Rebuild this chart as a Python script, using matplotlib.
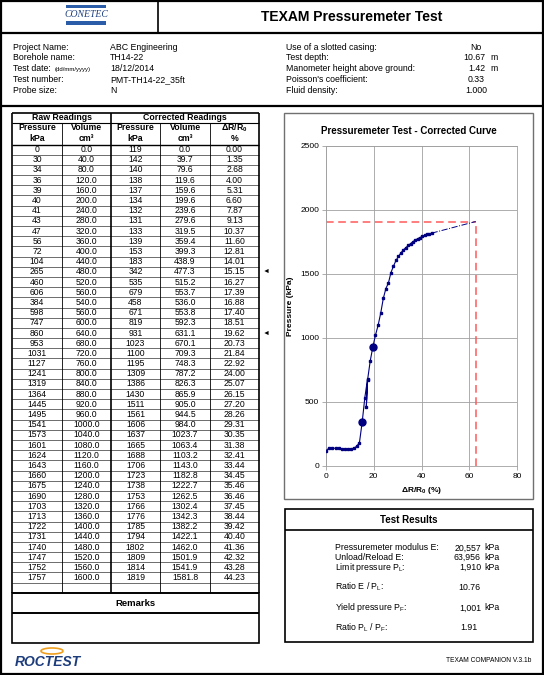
import matplotlib
matplotlib.use('Agg')
import matplotlib.pyplot as plt
from matplotlib.patches import Rectangle, Arc

plt.rcParams['font.family'] = ['Liberation Sans', 'DejaVu Sans']
plt.rcParams['mathtext.fontset'] = 'custom'
plt.rcParams['mathtext.rm'] = 'Liberation Sans'
plt.rcParams['mathtext.it'] = 'Liberation Sans:italic'
plt.rcParams['mathtext.bf'] = 'Liberation Sans:bold'

# Readings
raw_p = [0, 30, 34, 36, 39, 40, 41, 43, 47, 56, 72, 104, 265, 460, 606, 384, 598, 747, 860,
         953, 1031, 1127, 1241, 1319, 1364, 1445, 1495, 1541, 1573, 1601, 1624, 1643, 1660,
         1675, 1690, 1703, 1713, 1722, 1731, 1740, 1747, 1752, 1757]
raw_v = [0, 40, 80, 120, 160, 200, 240, 280, 320, 360, 400, 440, 480, 520, 560, 540, 560,
         600, 640, 680, 720, 760, 800, 840, 880, 920, 960, 1000, 1040, 1080, 1120, 1160, 1200,
         1240, 1280, 1320, 1360, 1400, 1440, 1480, 1520, 1560, 1600]
cor_p = [119, 142, 140, 138, 137, 134, 132, 131, 133, 139, 153, 183, 342, 535, 679, 458, 671,
         819, 931, 1023, 1100, 1195, 1309, 1386, 1430, 1511, 1561, 1606, 1637, 1665, 1688,
         1706, 1723, 1738, 1753, 1766, 1776, 1785, 1794, 1802, 1809, 1814, 1819]
cor_v = [0.0, 39.7, 79.6, 119.6, 159.6, 199.6, 239.6, 279.6, 319.5, 359.4, 399.3, 438.9, 477.3,
         515.2, 553.7, 536.0, 553.8, 592.3, 631.1, 670.1, 709.3, 748.3, 787.2, 826.3, 865.9,
         905.0, 944.5, 984.0, 1023.7, 1063.4, 1103.2, 1143.0, 1182.8, 1222.7, 1262.5, 1302.4,
         1342.3, 1382.2, 1422.1, 1462.0, 1501.9, 1541.9, 1581.8]
dr = [0.00, 1.35, 2.68, 4.00, 5.31, 6.60, 7.87, 9.13, 10.37, 11.60, 12.81, 14.01, 15.15, 16.27,
      17.39, 16.88, 17.40, 18.51, 19.62, 20.73, 21.84, 22.92, 24.00, 25.07, 26.15, 27.20,
      28.26, 29.31, 30.35, 31.38, 32.41, 33.44, 34.45, 35.46, 36.46, 37.45, 38.44, 39.42,
      40.40, 41.36, 42.32, 43.28, 44.23]
selected = [12, 18]          # pseudo-elastic range limits
pl = 1910                    # limit pressure
pl_strain = 62.7

info_left = [('Project Name:', 'ABC Engineering'), ('Borehole name:', 'TH14-22'),
             ('Test date:', '18/12/2014'), ('Test number:', 'PMT-TH14-22_35ft'),
             ('Probe size:', 'N')]
info_right = [('Use of a slotted casing:', 'No', ''), ('Test depth:', '10.67', 'm'),
              ('Manometer height above ground:', '1.42', 'm'), ("Poisson's coefficient:", '0.33', ''),
              ('Fluid density:', '1.000', '')]
results = [('Pressuremeter modulus E:', '20,557', 'kPa'), ('Unload/Reload E:', '63,956', 'kPa'),
           ('Limit pressure P$_\\mathregular{L}$:', '1,910', 'kPa'),
           ('Ratio E / P$_\\mathregular{L}$:', '10.76', ''),
           ('Yield pressure P$_\\mathregular{F}$:', '1,001', 'kPa'),
           ('Ratio P$_\\mathregular{L}$ / P$_\\mathregular{F}$:', '1.91', '')]

fig = plt.figure(figsize=(5.44, 6.75), dpi=100)
page = fig.add_axes([0, 0, 1, 1])
page.set_xlim(0, 544)
page.set_ylim(675, 0)
page.axis('off')

def hline(y, x0, x1, lw=0.6, c='black'):
    page.plot([x0, x1], [y, y], color=c, lw=lw, solid_capstyle='butt')

def vline(x, y0, y1, lw=0.6, c='black'):
    page.plot([x, x], [y0, y1], color=c, lw=lw, solid_capstyle='butt')

def txt(x, y, s, size=6.3, ha='left', **kw):
    page.text(x, y, s, fontsize=size, ha=ha, va='center', **kw)

# page frame and header
page.add_patch(Rectangle((1, 1), 542, 673, fill=False, lw=1.6, ec='black'))
hline(33, 1, 543, lw=1.6)
hline(106, 1, 543, lw=1.6)
vline(158, 1, 33, lw=1.2)
txt(352, 17, 'TEXAM Pressuremeter Test', size=10, ha='center', weight='bold')
page.add_patch(Rectangle((66, 4.5), 40, 3.5, color='#2b5ca8', lw=0))
page.add_patch(Rectangle((66, 21), 40, 3.5, color='#2b5ca8', lw=0))
txt(86, 14.5, 'CONETEC', size=7, ha='center', family='Liberation Serif',
    style='italic', color='#1f3f7f')

# project info
for i, (lab, val) in enumerate(info_left):
    y = 47 + i * 10.8
    txt(13, y, lab)
    txt(110, y, val)
txt(55, 47 + 2 * 10.8 + 0.5, '(dd/mm/yyyy)', size=4.3)
for i, (lab, val, unit) in enumerate(info_right):
    y = 47 + i * 10.8
    txt(286, y, lab)
    if unit:
        txt(485, y, val, ha='right')
        txt(490, y, unit)
    else:
        txt(476, y, val, ha='center')

# readings table
cols = [12, 62, 111, 160, 210, 259]
top, sub, head_bot, row_h = 113, 122.5, 144.5, 10.19
n_rows = len(raw_p) + 1
tab_bot = head_bot + n_rows * row_h
hline(top, 12, 259, lw=1.2)
hline(sub, 12, 259, lw=0.8)
hline(head_bot, 12, 259, lw=1.0)
for i in range(1, n_rows):
    hline(head_bot + i * row_h, 12, 259, lw=0.5, c='#333333')
for x in cols:
    lw = 1.2 if x in (12, 111, 259) else 0.6
    vline(x, sub if x not in (12, 111, 259) else top, tab_bot, lw=lw)
txt(61.5, 118, 'Raw Readings', ha='center', weight='bold')
txt(185, 118, 'Corrected Readings', ha='center', weight='bold')
heads = [('Pressure', 'kPa'), ('Volume', 'cm³'), ('Pressure', 'kPa'), ('Volume', 'cm³'),
         ('ΔR/R$_\\mathregular{0}$', '%')]
for j, (h1, h2) in enumerate(heads):
    xc = (cols[j] + cols[j + 1]) / 2
    txt(xc, 128, h1, ha='center', weight='bold')
    txt(xc, 138.5, h2, ha='center', weight='bold')
for i in range(len(raw_p)):
    y = head_bot + (i + 0.5) * row_h
    vals = [str(raw_p[i]), '%.1f' % raw_v[i], str(cor_p[i]), '%.1f' % cor_v[i], '%.2f' % dr[i]]
    for j, v in enumerate(vals):
        txt((cols[j] + cols[j + 1]) / 2, y, v, size=6.2, ha='center')
    if i in selected:
        txt(263, y, '◄', size=5)

# remarks
hline(tab_bot, 12, 259, lw=1.2)
hline(613, 12, 259, lw=1.4)
page.add_patch(Rectangle((12, tab_bot), 247, 643 - tab_bot, fill=False, lw=1.2))
txt(135.5, 603, 'Remarks', size=6.8, ha='center', weight='bold')

# roctest logo
page.add_patch(Arc((52, 651), 22, 6, theta1=0, theta2=360, color='#f0a020', lw=1.2))
txt(15, 662, 'ROCTEST', size=10, weight='bold', style='italic', color='#1c3c7c')

# chart box
page.add_patch(Rectangle((284, 113), 249, 386, fill=False, lw=1.0, ec='#707070'))
txt(408.5, 131, 'Pressuremeter Test - Corrected Curve', size=7, ha='center', weight='bold')

# results box
page.add_patch(Rectangle((285, 509), 248, 133, fill=False, lw=1.2, ec='black'))
hline(530, 285, 533, lw=1.2)
txt(409, 520, 'Test Results', size=7, ha='center', weight='bold')
res_y = [548, 557, 567, 587, 608, 628]
for (lab, val, unit), y in zip(results, res_y):
    txt(335, y, lab)
    if unit:
        txt(481, y, val, ha='right')
        txt(484, y, unit)
    else:
        txt(469, y, val, ha='center')
txt(531, 660, 'TEXAM COMPANION V.3.1b', size=4.8, ha='right')

# chart
ax = fig.add_axes([326 / 544, 1 - 466 / 675, 191 / 544, 320 / 675])
ax.plot(dr, cor_p, color='#000080', lw=0.8, marker='s', ms=1.8, zorder=3)
ax.plot([dr[i] for i in selected], [cor_p[i] for i in selected], 'o', color='#000080',
        ms=5, zorder=4)
ax.plot([dr[-1], pl_strain], [cor_p[-1], pl], color='#000080', lw=0.7, ls='-.', zorder=3)
ax.plot([0, pl_strain], [pl, pl], color='#ff5a5a', lw=1.1, ls=(0, (5, 3)), zorder=2)
ax.plot([pl_strain, pl_strain], [0, pl], color='#ff5a5a', lw=1.1, ls=(0, (5, 3)), zorder=2)
ax.set_xlim(0, 80)
ax.set_ylim(0, 2500)
ax.set_xticks(range(0, 81, 20))
ax.set_yticks(range(0, 2501, 500))
ax.grid(True, color='#a0a0a0', lw=0.6)
for s in ax.spines.values():
    s.set_color('#a0a0a0')
    s.set_linewidth(0.6)
ax.tick_params(labelsize=6, length=3, color='#a0a0a0', width=0.6, pad=2)
ax.set_xlabel('ΔR/R$_\\mathregular{0}$ (%)', fontsize=6, weight='bold', labelpad=4)
ax.set_ylabel('Pressure (kPa)', fontsize=6, weight='bold', labelpad=4)

fig.savefig('out.png', dpi=100)
